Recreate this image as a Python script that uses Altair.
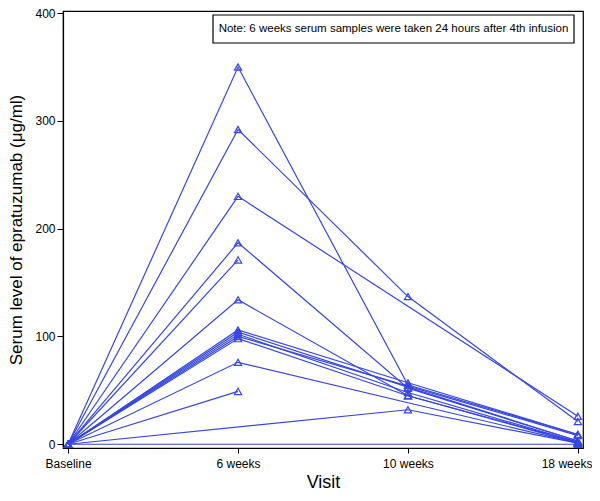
import altair as alt
import pandas as pd

visits = ["Baseline", "6 weeks", "10 weeks", "18 weeks"]
patients = [1, 2, 3, 4, 5, 6, 7, 8, 9, 10, 11, 12, 13, 14, 15]
baseline = [0, 0, 0, 0, 0, 0, 0, 0, 0, 0, 0, 0, 0, 0, 0]
week6 = [350, 292, 230, 187, 171, 134, 106, 104, 102, 100, 98, 76, 49, None, None]
week10 = [55, 137, None, 52, None, 45, 57, 53, 48, None, 45, None, None, 32, None]
week18 = [9, 21, 26, 3, None, 2, 9, 3, 2, 8, 1, 1, None, 1, 0]
note = "Note: 6 weeks serum samples were taken 24 hours after 4th infusion"

rows = []
series = [baseline, week6, week10, week18]
for i, p in enumerate(patients):
    for j, v in enumerate(visits):
        val = series[j][i]
        if val is not None:
            rows.append({"patient": p, "visit": v, "order": j, "value": val})
df = pd.DataFrame(rows)

color = "#3646e0"
font = "Liberation Sans"

x = alt.X("visit:N", sort=visits,
          scale=alt.Scale(type="point", padding=0.03),
          axis=alt.Axis(title="Visit", labelAngle=0, tickSize=5, labelPadding=5,
                        titleFontSize=18, titlePadding=4, labelFontSize=12,
                        labelAlign={"expr": "datum.value === '18 weeks' ? 'right' : 'center'"},
                        labelOffset={"expr": "datum.value === '18 weeks' ? 14 : 0"}))
y = alt.Y("value:Q",
          scale=alt.Scale(domain=[-3.5, 402], nice=False, zero=False),
          axis=alt.Axis(values=[0, 100, 200, 300, 400], title="Serum level of epratuzumab (\u03bcg/ml)",
                        tickSize=6, labelPadding=2, titleFontSize=17, titlePadding=9,
                        labelFontSize=12))

lines = alt.Chart(df).mark_line(color=color, strokeWidth=1.2).encode(
    x=x, y=y, detail="patient:N", order="order:Q")
points = alt.Chart(df).mark_point(shape="triangle-up", filled=False, color=color,
                                  size=52, strokeWidth=1.2, opacity=1).encode(x=x, y=y)

box = alt.Chart(pd.DataFrame({"a": [0]})).mark_rect(fill="white", stroke="black", strokeWidth=1.2).encode(
    x=alt.value(150), x2=alt.value(511), y=alt.value(4), y2=alt.value(32))
txt = alt.Chart(pd.DataFrame({"t": [note]})).mark_text(
    fontSize=11.5, font=font, align="center", baseline="middle", color="black").encode(
    text="t:N", x=alt.value(330.5), y=alt.value(18))

chart = alt.layer(lines, points, box, txt).properties(
    width=520, height=437,
    padding={"left": 55, "top": 3, "right": 9, "bottom": 45},
    autosize=alt.AutoSizeParams(type="none"),
).configure_view(stroke="black", strokeWidth=1.2).configure_axis(
    domainColor="black", tickColor="black", labelColor="black", titleColor="black",
    labelFont=font, titleFont=font, grid=False, titleFontWeight="normal",
    domainWidth=1.2)

chart.save("out.html", embed_options={"renderer": "svg", "actions": False})
